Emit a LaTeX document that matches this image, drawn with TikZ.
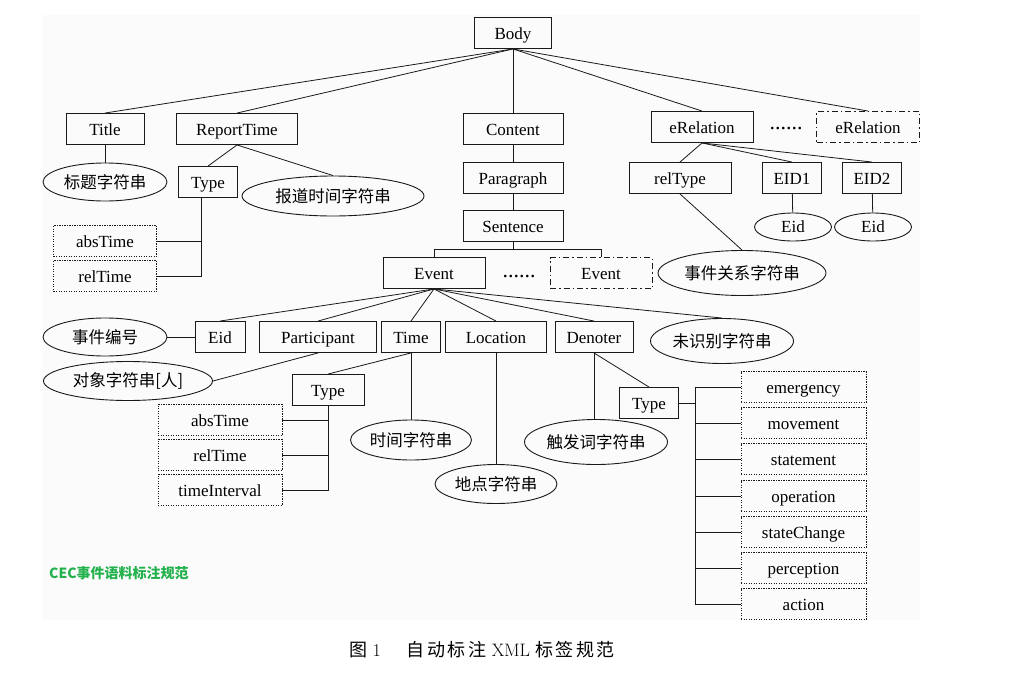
\documentclass[tikz,border=0pt]{standalone}
\usepackage{fontspec}
\usepackage{tikz}
\usetikzlibrary{shapes.geometric}
\newfontfamily\tnr{Liberation Serif}
\newfontfamily\cjk{Noto Sans CJK SC}
\newfontfamily\cjkcap[LetterSpace=14]{Noto Sans CJK SC}
\definecolor{Ink}{HTML}{1A1A1A}
\definecolor{Tag}{HTML}{22B14C}
\definecolor{Paper}{HTML}{FBFBFB}

\begin{document}
\begin{tikzpicture}[x=1pt,y=-1pt,
  box/.style={draw=Ink,line width=0.9pt,minimum height=31pt,inner sep=0pt,
    text height=15pt,text depth=3pt,font=\tnr\fontsize{17}{17}\selectfont},
  optbox/.style={box,dash pattern=on 1.4pt off 1.1pt},
  morebox/.style={box,dash pattern=on 6pt off 3pt on 1.5pt off 3pt},
  oval/.style={draw=Ink,ellipse,line width=0.9pt,inner sep=0pt,
    font=\cjk\fontsize{16.5}{16.5}\selectfont},
  dots/.style={font=\tnr\fontsize{22}{22}\selectfont,inner sep=0pt,anchor=base},
  link/.style={draw=Ink,line width=0.8pt}]
  \useasboundingbox (0,0) rectangle (1017,680);
  \fill[Paper] (42,15) rectangle (920,620);
  % top level
  \node[box,minimum width=77pt] (body) at (513,33) {Body};
  \node[box,minimum width=78pt] (title) at (105,129) {Title};
  \node[box,minimum width=121pt] (rtime) at (237,129) {ReportTime};
  \node[box,minimum width=100pt] (content) at (513,129) {Content};
  \node[box,minimum width=102pt] (erel) at (702,127) {eRelation};
  \node[dots] (reldots) at (786,129) {......};
  \node[morebox,minimum width=103pt] (erelx) at (868,127) {eRelation};
  \foreach \n in {title,rtime,content,erel,erelx}
    \draw[link] (body.south) -- (\n.north);
  % Title / ReportTime
  \node[oval,minimum width=124pt,minimum height=38pt] (titlestr) at (105,182) {标题字符串};
  \node[box,minimum width=59pt] (rttype) at (208,182) {Type};
  \node[oval,minimum width=182pt,minimum height=40pt] (rtstr) at (333,196) {报道时间字符串};
  \node[optbox,minimum width=103pt] (rtabs) at (105,241) {absTime};
  \node[optbox,minimum width=103pt] (rtrel) at (105,276) {relTime};
  \draw[link] (title.south) -- (titlestr.north);
  \draw[link] (rtime.south) -- (rttype.north);
  \draw[link] (rtime.south) -- (rtstr.north);
  \draw[link] (rtabs.east) -| ([xshift=-7pt]rttype.south);
  \draw[link] (rtrel.east) -| ([xshift=-7pt]rttype.south);
  % Content chain
  \node[box,minimum width=100pt] (para) at (513,178) {Paragraph};
  \node[box,minimum width=100pt] (sent) at (513,226) {Sentence};
  \draw[link] (content) -- (para) -- (sent);
  \node[box,minimum width=102pt] (event) at (434,273) {Event};
  \node[dots] (evdots) at (519,277) {......};
  \node[morebox,minimum width=102pt] (eventx) at (601,273) {Event};
  \draw[link] (sent.south) -- ++(0,7) coordinate (sbar);
  \draw[link] (event.north) |- (sbar) -| (eventx.north);
  % eRelation
  \node[box,minimum width=102pt] (reltype) at (680,178) {relType};
  \node[box,minimum width=59pt] (eid1) at (792,178) {EID1};
  \node[box,minimum width=59pt] (eid2) at (872,178) {EID2};
  \node[oval,minimum width=77pt,minimum height=28pt,font=\tnr\fontsize{17}{17}\selectfont] (eidA) at (793,227) {Eid};
  \node[oval,minimum width=77pt,minimum height=28pt,font=\tnr\fontsize{17}{17}\selectfont] (eidB) at (873,227) {Eid};
  \node[oval,minimum width=168pt,minimum height=45pt] (relstr) at (742,273) {事件关系字符串};
  \foreach \n in {reltype,eid1,eid2}
    \draw[link] (erel.south) -- (\n.north);
  \draw[link] (reltype.south) -- (relstr.north);
  \draw[link] (eid1) -- (eidA);
  \draw[link] (eid2) -- (eidB);
  % Event children
  \node[box,minimum width=50pt] (eid) at (220,337) {Eid};
  \node[box,minimum width=117pt] (part) at (318,337) {Participant};
  \node[box,minimum width=59pt] (time) at (411,337) {Time};
  \node[box,minimum width=101pt] (loc) at (496,337) {Location};
  \node[box,minimum width=78pt] (den) at (594,337) {Denoter};
  \node[oval,minimum width=143pt,minimum height=45pt] (unkstr) at (722,341) {未识别字符串};
  \foreach \n in {eid,part,time,loc,den,unkstr}
    \draw[link] (event.south) -- (\n.north);
  \node[oval,minimum width=124pt,minimum height=38pt] (eidstr) at (105,337) {事件编号};
  \node[oval,minimum width=169pt,minimum height=39pt] (objstr) at (128,381) {对象字符串[人]};
  \draw[link] (eidstr) -- (eid);
  \draw[link] (part.south) -- (objstr.east);
  % Time
  \node[box,minimum width=72pt] (ttype) at (328,390) {Type};
  \draw[link] (time.south) -- (ttype.north);
  \foreach \n/\lab/\y in {tabs/absTime/420,trel/relTime/455,tint/timeInterval/490} {
    \node[optbox,minimum width=124pt] (\n) at (220,\y) {\lab};
    \draw[link] (\n.east) -| (ttype.south);
  }
  \node[oval,minimum width=121pt,minimum height=40pt] (timestr) at (411,440) {时间字符串};
  \draw[link] (time.south) -- (timestr.north);
  \node[oval,minimum width=122pt,minimum height=39pt] (locstr) at (496,484) {地点字符串};
  \draw[link] (loc.south) -- (locstr.north);
  % Denoter
  \node[oval,minimum width=143pt,minimum height=45pt] (trigstr) at (596,442) {触发词字符串};
  \draw[link] (den.south) -- (den.south |- trigstr.north);
  \node[box,minimum width=59pt] (dtype) at (649,403) {Type};
  \draw[link] (den.south) -- (dtype.north);
  \coordinate (dbar) at (695,403);
  \draw[link] (dtype.east) -- (dbar);
  \foreach \n/\lab/\y in {dt1/emergency/387,dt2/movement/423,dt3/statement/459,
    dt4/operation/496,dt5/stateChange/532,dt6/perception/568,dt7/action/604} {
    \node[optbox,minimum width=125pt] (\n) at (803.5,\y) {\lab};
    \draw[link] (\n.west) -| (dbar);
  }
  % notes
  \node[anchor=west,text=Tag,inner sep=0pt,font=\cjk\bfseries\fontsize{14}{14}\selectfont] (tagnote) at (49,573) {CEC事件语料标注规范};
  \node[inner sep=0pt,font=\fontsize{18}{18}\selectfont] (caption) at (482,650)
    {{\cjkcap 图} 1\hspace{26pt}{\cjkcap 自动标注} XML {\cjkcap 标签规范}};
\end{tikzpicture}
\end{document}
